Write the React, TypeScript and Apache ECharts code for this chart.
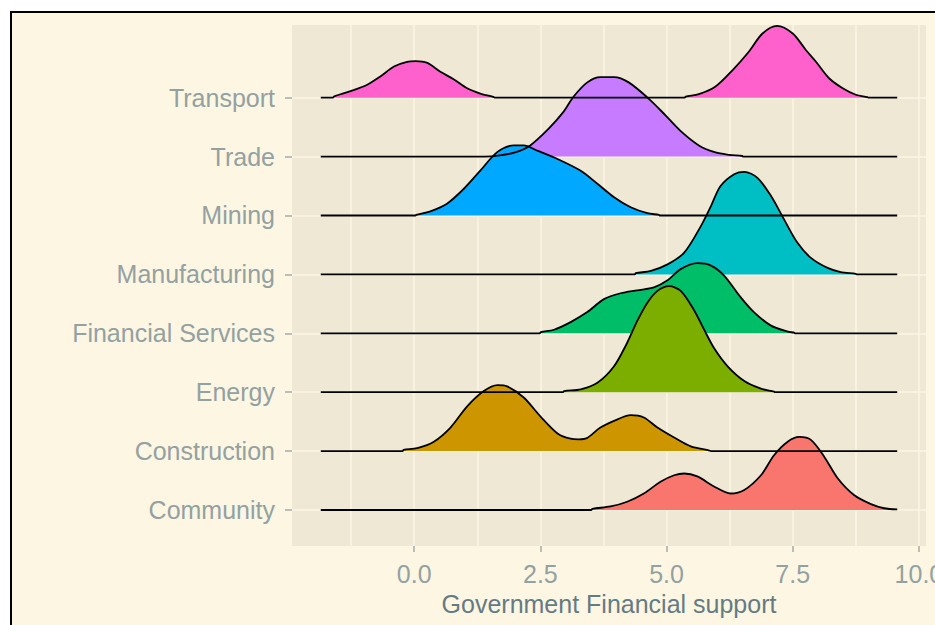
import React, { useEffect, useRef } from "react";
import * as echarts from "echarts";

// Categories from bottom (1) to top (8)
const categories = [
  "Community",
  "Construction",
  "Energy",
  "Financial Services",
  "Manufacturing",
  "Mining",
  "Trade",
  "Transport",
];
const colors = ["#F8766D", "#CD9600", "#7CAE00", "#00BE67", "#00BFC4", "#00A9FF", "#C77CFF", "#FF61CC"];

const xTickValues = [0, 2.5, 5, 7.5, 10];
const xGridValues = [-1.25, 0, 1.25, 2.5, 3.75, 5, 6.25, 7.5, 8.75, 10];
const yTickValues = [1, 2, 3, 4, 5, 6, 7, 8];

// Ridge heights [x, height]
const community = [
  [-1.85, 0], [3.51, 0], [3.53, 0.02], [3.89, 0.06], [4.22, 0.14], [4.55, 0.28], [4.88, 0.48], [5.15, 0.59],
  [5.35, 0.62], [5.61, 0.57], [5.94, 0.4], [6.27, 0.28], [6.54, 0.34], [6.87, 0.59], [7.13, 0.93], [7.4, 1.16],
  [7.63, 1.24], [7.86, 1.19], [8.12, 0.91], [8.39, 0.54], [8.72, 0.25], [9.05, 0.1], [9.31, 0.03], [9.57, 0.01],
];
const construction = [
  [-1.85, 0], [-0.23, 0], [-0.21, 0.02], [0.06, 0.05], [0.39, 0.16], [0.72, 0.4], [1.05, 0.76], [1.38, 1.02],
  [1.65, 1.12], [1.84, 1.1], [2.17, 0.91], [2.5, 0.59], [2.84, 0.3], [3.1, 0.21], [3.26, 0.2], [3.42, 0.22],
  [3.69, 0.4], [4.03, 0.54], [4.29, 0.61], [4.55, 0.57], [4.82, 0.4], [5.15, 0.23], [5.48, 0.08], [5.85, 0.01],
  [5.88, 0], [9.57, 0],
];
const energy = [
  [-1.85, 0], [2.95, 0], [2.97, 0.02], [3.3, 0.05], [3.63, 0.16], [3.96, 0.44], [4.22, 0.84], [4.42, 1.21],
  [4.62, 1.52], [4.82, 1.72], [5.05, 1.8], [5.28, 1.72], [5.54, 1.4], [5.74, 1.07], [5.94, 0.75], [6.21, 0.44],
  [6.54, 0.19], [6.87, 0.06], [7.13, 0.01], [7.15, 0], [9.57, 0],
];
const financial = [
  [-1.85, 0], [2.49, 0], [2.51, 0.02], [2.77, 0.06], [3.1, 0.19], [3.43, 0.36], [3.76, 0.58], [4.09, 0.68],
  [4.42, 0.73], [4.75, 0.78], [5.02, 0.9], [5.28, 1.09], [5.61, 1.19], [5.88, 1.15], [6.14, 0.98], [6.47, 0.61],
  [6.73, 0.36], [7.07, 0.13], [7.4, 0.03], [7.53, 0.01], [7.55, 0], [9.57, 0],
];
const manufacturing = [
  [-1.85, 0], [4.37, 0], [4.39, 0.02], [4.69, 0.06], [5.02, 0.17], [5.35, 0.37], [5.68, 0.82], [5.88, 1.16],
  [6.07, 1.5], [6.34, 1.7], [6.54, 1.74], [6.8, 1.64], [7.07, 1.33], [7.33, 0.93], [7.59, 0.54], [7.86, 0.28],
  [8.19, 0.11], [8.45, 0.04], [8.75, 0.01], [8.77, 0], [9.57, 0],
];
const mining = [
  [-1.85, 0], [0.02, 0], [0.04, 0.01], [0.32, 0.07], [0.65, 0.2], [0.98, 0.45], [1.31, 0.76], [1.65, 1.08],
  [1.98, 1.19], [2.17, 1.19], [2.44, 1.1], [2.84, 0.96], [3.3, 0.76], [3.63, 0.54], [3.96, 0.31], [4.29, 0.14],
  [4.62, 0.04], [4.85, 0.01], [4.87, 0], [9.57, 0],
];
const trade = [
  [-1.85, 0], [1.4, 0], [1.7, 0.02], [2.0, 0.07], [2.3, 0.19], [2.66, 0.47], [2.95, 0.75], [3.16, 1.02],
  [3.43, 1.26], [3.69, 1.35], [3.96, 1.35], [4.25, 1.26], [4.65, 0.98], [4.98, 0.7], [5.31, 0.41], [5.64, 0.19],
  [5.97, 0.07], [6.24, 0.03], [6.5, 0.01], [6.52, 0], [9.57, 0],
];
const transport = [
  [-1.85, 0], [-1.61, 0], [-1.59, 0.02], [-1.26, 0.11], [-0.93, 0.22], [-0.67, 0.36], [-0.4, 0.53], [-0.14, 0.61],
  [0.03, 0.62], [0.26, 0.59], [0.52, 0.44], [0.79, 0.31], [1.05, 0.16], [1.31, 0.07], [1.58, 0.01], [1.6, 0],
  [5.36, 0], [5.38, 0.02], [5.64, 0.06], [5.97, 0.19], [6.31, 0.47], [6.63, 0.78], [6.9, 1.09], [7.19, 1.22],
  [7.5, 1.09], [7.76, 0.81], [7.96, 0.61], [8.22, 0.33], [8.49, 0.16], [8.75, 0.05], [8.98, 0.01], [9.0, 0], [9.57, 0],
];

const ridges = [community, construction, energy, financial, manufacturing, mining, trade, transport];

const FONT = "Liberation Sans";
const FS = 25;

export default function App() {
  const ref = useRef<HTMLDivElement>(null);

  useEffect(() => {
    if (!ref.current) return;
    const chart = echarts.init(ref.current, undefined, { renderer: "svg" });

    const series: any[] = [
      {
        type: "line",
        data: [],
        silent: true,
        z: 0,
        symbol: "none",
        markLine: {
          z: 0,
          silent: true,
          symbol: ["none", "none"],
          label: { show: false },
          animation: false,
          lineStyle: { color: "#FDF6E3", width: 1.5, type: "solid" },
          emphasis: { disabled: true },
          data: [
            ...xGridValues.map((v) => ({ xAxis: v })),
            ...yTickValues.map((v) => ({ yAxis: v })),
          ],
        },
      },
    ];

    for (let i = ridges.length - 1; i >= 0; i--) {
      const base = i + 1;
      series.push({
        type: "line",
        name: categories[i],
        data: ridges[i].map(([x, h]) => [x, base + h]),
        symbol: "none",
        showSymbol: false,
        smooth: 0.3,
        z: 3,
        silent: true,
        lineStyle: { color: "#000000", width: 1.8 },
        areaStyle: { color: colors[i], opacity: 1, origin: base },
      });
    }

    chart.setOption({
      animation: false,
      backgroundColor: "transparent",
      grid: {
        left: 292,
        right: 9,
        top: 25,
        bottom: 79,
        containLabel: false,
        outerBoundsMode: "none",
        show: true,
        backgroundColor: "#EEE8D5",
        borderWidth: 0,
      },
      xAxis: {
        type: "value",
        position: "bottom",
        min: -2.42,
        max: 10.14,
        axisLine: { show: false, onZero: false },
        splitLine: { show: false },
        axisTick: {
          show: true,
          customValues: xTickValues,
          length: 6,
          lineStyle: { color: "#A3ABA8", width: 1.5 },
        },
        axisLabel: {
          customValues: xTickValues,
          formatter: (v: number) => v.toFixed(1),
          margin: 15,
          fontSize: FS,
          fontFamily: FONT,
          color: "#93A1A1",
        },
        name: "Government Financial support",
        nameLocation: "middle",
        nameGap: 45,
        nameTextStyle: { fontSize: FS, fontFamily: FONT, color: "#657B83" },
      },
      yAxis: {
        type: "value",
        position: "left",
        min: 0.389,
        max: 9.234,
        axisLine: { show: false, onZero: false },
        splitLine: { show: false },
        axisTick: {
          show: true,
          customValues: yTickValues,
          length: 7,
          lineStyle: { color: "#A3ABA8", width: 1.5 },
        },
        axisLabel: {
          customValues: yTickValues,
          formatter: (v: number) => categories[Math.round(v) - 1] ?? "",
          margin: 17,
          padding: [7, 0, 0, 0],
          fontSize: FS,
          fontFamily: FONT,
          color: "#93A1A1",
        },
      },
      series,
    });

    return () => chart.dispose();
  }, []);

  return (
    <div
      style={{
        position: "absolute",
        left: 0,
        top: 0,
        width: 935,
        height: 625,
        overflow: "hidden",
        background: "#FFFFFF",
      }}
    >
      <div
        style={{
          position: "absolute",
          left: 10,
          top: 11,
          width: 1000,
          height: 700,
          borderLeft: "2px solid #000",
          borderTop: "2px solid #000",
          background: "#FDF6E3",
        }}
      />
      <div ref={ref} style={{ position: "absolute", left: 0, top: 0, width: 935, height: 625 }} />
    </div>
  );
}
